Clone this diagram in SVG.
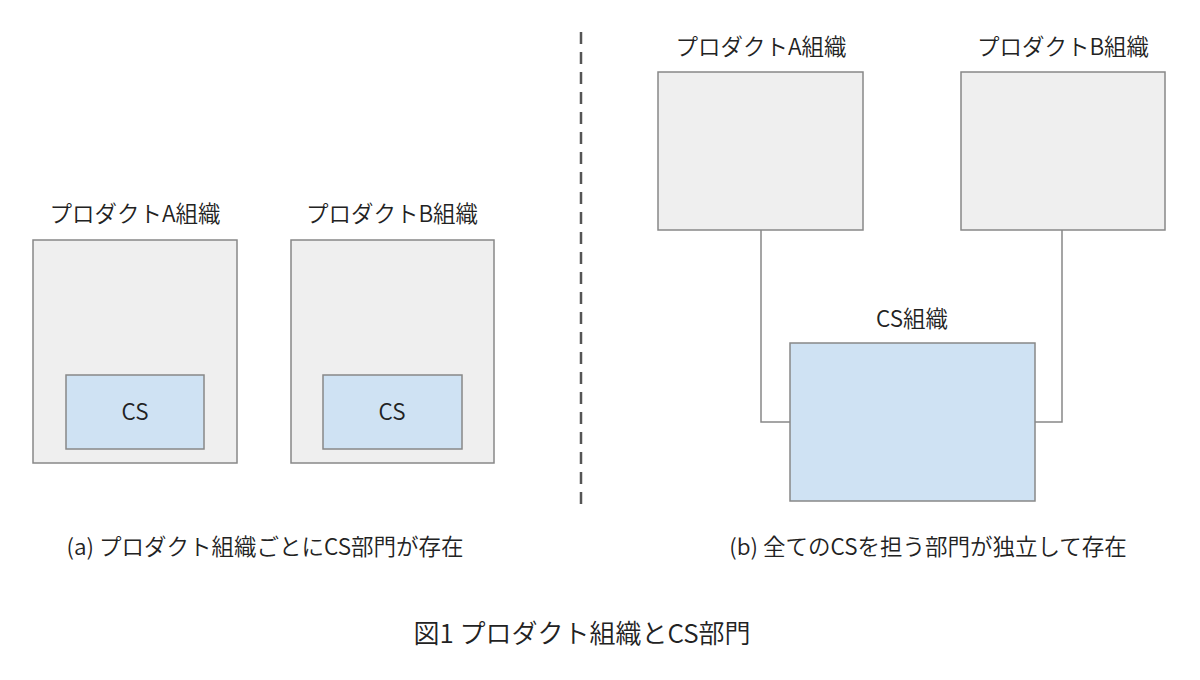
<svg xmlns="http://www.w3.org/2000/svg" width="1200" height="680" viewBox="0 0 1200 680">
<style>
text{font-family:"Noto Sans CJK JP","Noto Sans",sans-serif;fill:#222;font-weight:350;}
.lbl{font-size:22.5px;text-anchor:middle;}
.cap{font-size:22.5px;text-anchor:middle;}
.org{fill:#efefef;stroke:#888;stroke-width:1.5;}
.cs{fill:#cfe2f3;stroke:#888;stroke-width:1.5;}
.conn{fill:none;stroke:#888;stroke-width:1.5;}
</style>
<rect width="1200" height="680" fill="#fff"/>
<line x1="581" y1="32" x2="581" y2="510" stroke="#555" stroke-width="2.5" stroke-dasharray="12,8"/>
<g id="a-prodA">
<text class="lbl" x="135" y="222">プロダクトA組織</text>
<rect class="org" x="33" y="240" width="204" height="223"/>
<rect class="cs" x="66" y="375" width="138" height="74"/>
<text class="lbl" x="135" y="420">CS</text>
</g>
<g id="a-prodB">
<text class="lbl" x="392" y="222">プロダクトB組織</text>
<rect class="org" x="291" y="240" width="203" height="223"/>
<rect class="cs" x="323" y="375" width="139" height="74"/>
<text class="lbl" x="392" y="420">CS</text>
</g>
<g id="connectors">
<polyline class="conn" points="761,230 761,422 790,422"/>
<polyline class="conn" points="1035,422 1062,422 1062,230"/>
</g>
<g id="b-prodA">
<text class="lbl" x="761" y="55">プロダクトA組織</text>
<rect class="org" x="658" y="72" width="205" height="158"/>
</g>
<g id="b-prodB">
<text class="lbl" x="1063" y="55">プロダクトB組織</text>
<rect class="org" x="961" y="72" width="204" height="158"/>
</g>
<g id="b-cs">
<text class="lbl" x="912" y="327">CS組織</text>
<rect class="cs" x="790" y="343" width="245" height="158"/>
</g>
<text class="cap" x="265" y="555">(a) プロダクト組織ごとにCS部門が存在</text>
<text class="cap" x="928" y="555">(b) 全てのCSを担う部門が独立して存在</text>
<text class="cap" x="582" y="643" style="font-size:26px">図1 プロダクト組織とCS部門</text>
</svg>
